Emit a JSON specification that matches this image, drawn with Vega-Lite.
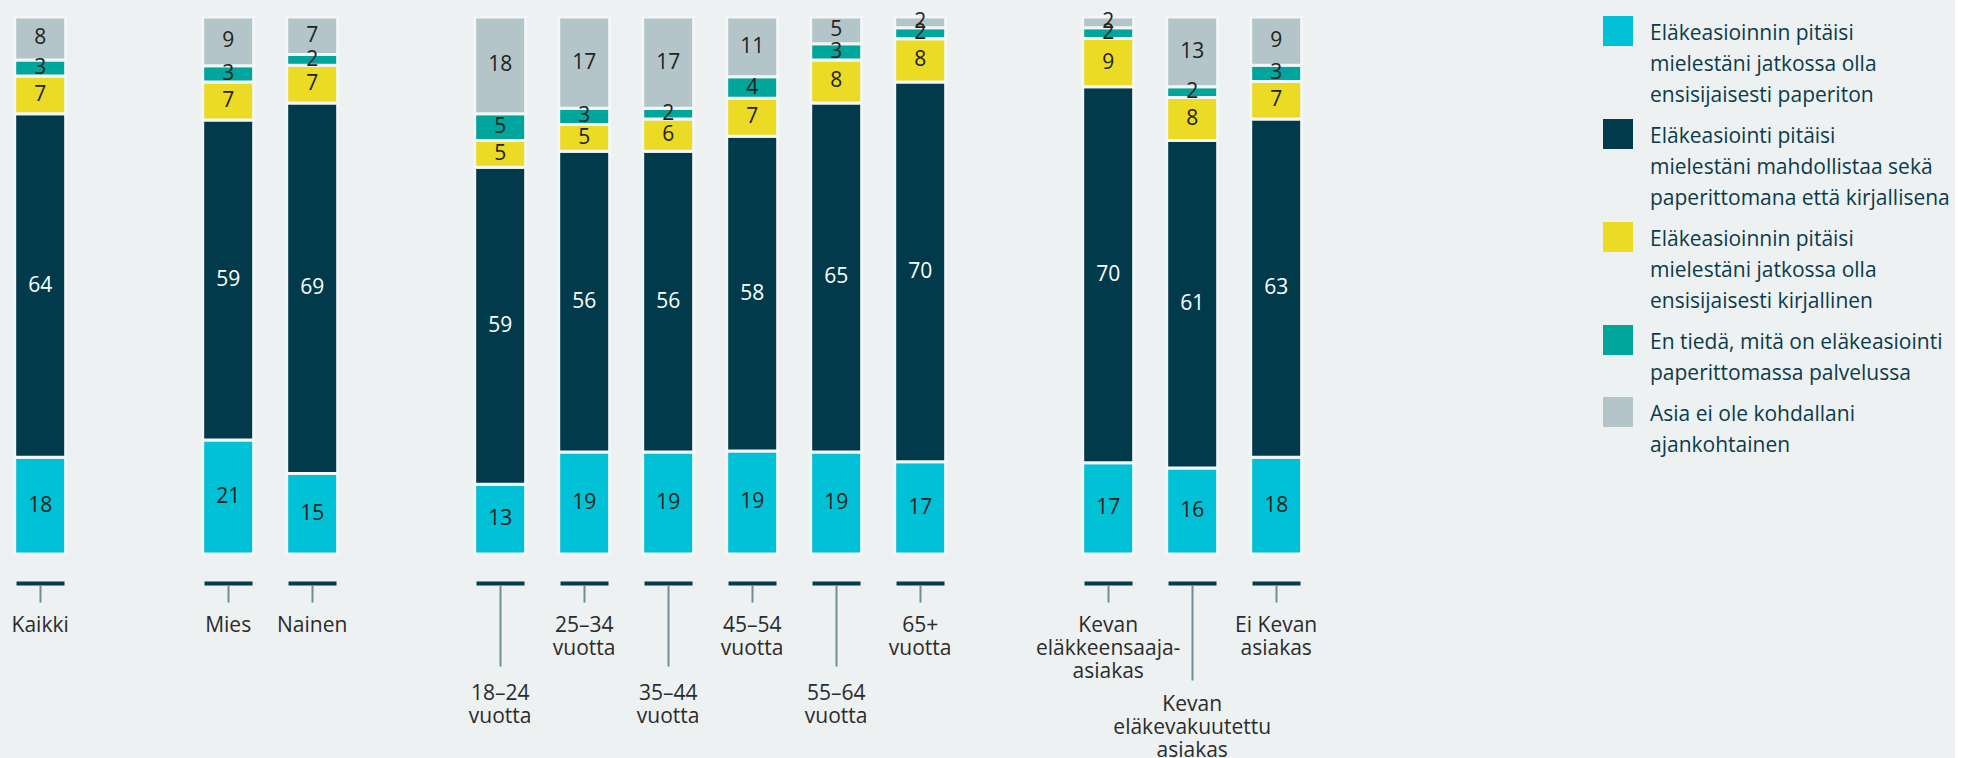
{
  "$schema": "https://vega.github.io/schema/vega-lite/v6.json",
  "background": "#edf1f2",
  "padding": {"left": 1, "top": 11, "right": 5, "bottom": 0},
  "bounds": "flush",
  "datasets": {
    "vastaukset": [
      {"k": "k1", "vastaus": "Eläkeasioinnin pitäisi\nmielestäni jatkossa olla\nensisijaisesti paperiton"},
      {"k": "k2", "vastaus": "Eläkeasiointi pitäisi\nmielestäni mahdollistaa sekä\npaperittomana että kirjallisena"},
      {"k": "k3", "vastaus": "Eläkeasioinnin pitäisi\nmielestäni jatkossa olla\nensisijaisesti kirjallinen"},
      {"k": "k4", "vastaus": "En tiedä, mitä on eläkeasiointi\npaperittomassa palvelussa"},
      {"k": "k5", "vastaus": "Asia ei ole kohdallani\najankohtainen"}
    ],
    "tulokset": [
      {"nro": 1, "ryhma": 1, "kohde": "Kaikki", "k1": 18, "k2": 64, "k3": 7, "k4": 3, "k5": 8},
      {"nro": 2, "ryhma": 2, "kohde": "Mies", "k1": 21, "k2": 59, "k3": 7, "k4": 3, "k5": 9},
      {"nro": 3, "ryhma": 2, "kohde": "Nainen", "k1": 15, "k2": 69, "k3": 7, "k4": 2, "k5": 7},
      {"nro": 4, "ryhma": 3, "kohde": "18–24 vuotta", "k1": 13, "k2": 59, "k3": 5, "k4": 5, "k5": 18},
      {"nro": 5, "ryhma": 3, "kohde": "25–34 vuotta", "k1": 19, "k2": 56, "k3": 5, "k4": 3, "k5": 17},
      {"nro": 6, "ryhma": 3, "kohde": "35–44 vuotta", "k1": 19, "k2": 56, "k3": 6, "k4": 2, "k5": 17},
      {"nro": 7, "ryhma": 3, "kohde": "45–54 vuotta", "k1": 19, "k2": 58, "k3": 7, "k4": 4, "k5": 11},
      {"nro": 8, "ryhma": 3, "kohde": "55–64 vuotta", "k1": 19, "k2": 65, "k3": 8, "k4": 3, "k5": 5},
      {"nro": 9, "ryhma": 3, "kohde": "65+ vuotta", "k1": 17, "k2": 70, "k3": 8, "k4": 2, "k5": 2},
      {"nro": 10, "ryhma": 4, "kohde": "Kevan eläkkeensaaja-asiakas", "k1": 17, "k2": 70, "k3": 9, "k4": 2, "k5": 2},
      {"nro": 11, "ryhma": 4, "kohde": "Kevan eläkevakuutettu asiakas", "k1": 16, "k2": 61, "k3": 8, "k4": 2, "k5": 13},
      {"nro": 12, "ryhma": 4, "kohde": "Ei\u00a0Kevan asiakas", "k1": 18, "k2": 63, "k3": 7, "k4": 3, "k5": 9}
    ]
  },
  "data": {"name": "tulokset"},
  "transform": [
    {"fold": ["k1", "k2", "k3", "k4", "k5"], "as": ["k", "osuus"]},
    {"lookup": "k", "from": {"data": {"name": "vastaukset"}, "key": "k", "fields": ["vastaus"]}},
    {"stack": "osuus", "groupby": ["kohde"], "sort": [{"field": "k", "order": "ascending"}], "offset": "normalize", "as": ["v0", "v1"]},
    {"calculate": "(datum.v0 + datum.v1) / 2", "as": "keski"}
  ],
  "facet": {
    "column": {"field": "ryhma", "type": "ordinal", "header": null}
  },
  "spacing": 109,
  "resolve": {"scale": {"x": "independent"}},
  "spec": {
    "width": {"step": 84},
    "height": 537,
    "resolve": {"axis": {"x": "independent"}},
    "layer": [
      {
        "mark": {"type": "bar", "stroke": "#f3f6f7", "strokeWidth": 3},
        "encoding": {
          "x": {
            "field": "kohde", "type": "nominal", "sort": {"field": "nro", "op": "min"},
            "scale": {"paddingInner": 0.393, "paddingOuter": 0.163},
            "axis": {"orient": "bottom", "title": null, "labels": false, "domain": false, "grid": false,
                     "ticks": true, "tickSize": 4, "tickWidth": 48, "tickColor": "#053b4b", "offset": 27}
          },
          "y": {"field": "v0", "type": "quantitative", "scale": {"domain": [0, 1]}, "axis": null},
          "y2": {"field": "v1"},
          "color": {
            "field": "vastaus", "type": "nominal", "sort": {"field": "k", "op": "min"},
            "scale": {"range": ["#00c1d5", "#013b4b", "#ebdb24", "#00a59b", "#b3c5c9"]},
            "legend": {
              "title": null, "orient": "none", "legendX": 1602, "legendY": -1,
              "symbolType": "square", "symbolSize": 900, "symbolStrokeWidth": 0, "symbolOpacity": 1,
              "labelFontSize": 21, "labelColor": "#0b3b4a", "labelLimit": 0, "labelOffset": 17,
              "labelBaseline": "top", "rowPadding": 13,
              "labelExpr": "split(datum.label, '\\n')",
              "encoding": {"labels": {"dy": {"value": -8}}}
            }
          }
        }
      },
      {
        "mark": {"type": "text", "fontSize": 21, "baseline": "middle"},
        "encoding": {
          "x": {
            "field": "kohde", "type": "nominal", "sort": {"field": "nro", "op": "min"},
            "axis": {
              "orient": "bottom", "title": null, "domain": false, "grid": false, "offset": 31,
              "tickSize": {"condition": [
                {"test": "indexof(datum.value, 'vakuutettu') >= 0", "value": 95},
                {"test": "indexof(datum.value, '18') === 0 || indexof(datum.value, '35') === 0 || indexof(datum.value, '55') === 0", "value": 81}
              ], "value": 17},
              "labelPadding": {"condition": [
                {"test": "indexof(datum.value, 'vakuutettu') >= 0", "value": 13},
                {"test": "indexof(datum.value, '18') === 0 || indexof(datum.value, '35') === 0 || indexof(datum.value, '55') === 0", "value": 16}
              ], "value": 12},
              "tickWidth": 2, "tickColor": "#6f8e98",
              "labelBaseline": "top", "labelFontSize": 21, "labelColor": "#2b2b2b",
              "labelLineHeight": 23, "labelAngle": 0, "labelOverlap": false, "labelBound": false,
              "labelFlush": false, "labelLimit": 0,
              "labelExpr": "split(replace(datum.label, '-', '- '), ' ')"
            }
          },
          "y": {"field": "keski", "type": "quantitative"},
          "text": {"field": "osuus", "type": "quantitative"},
          "color": {"condition": {"test": "datum.k === 'k2'", "value": "#ffffff"}, "value": "#222222"}
        }
      }
    ]
  },
  "config": {
    "font": "Open Sans",
    "view": {"stroke": null},
    "style": {"guide-label": {"lineHeight": 31}}
  }
}
